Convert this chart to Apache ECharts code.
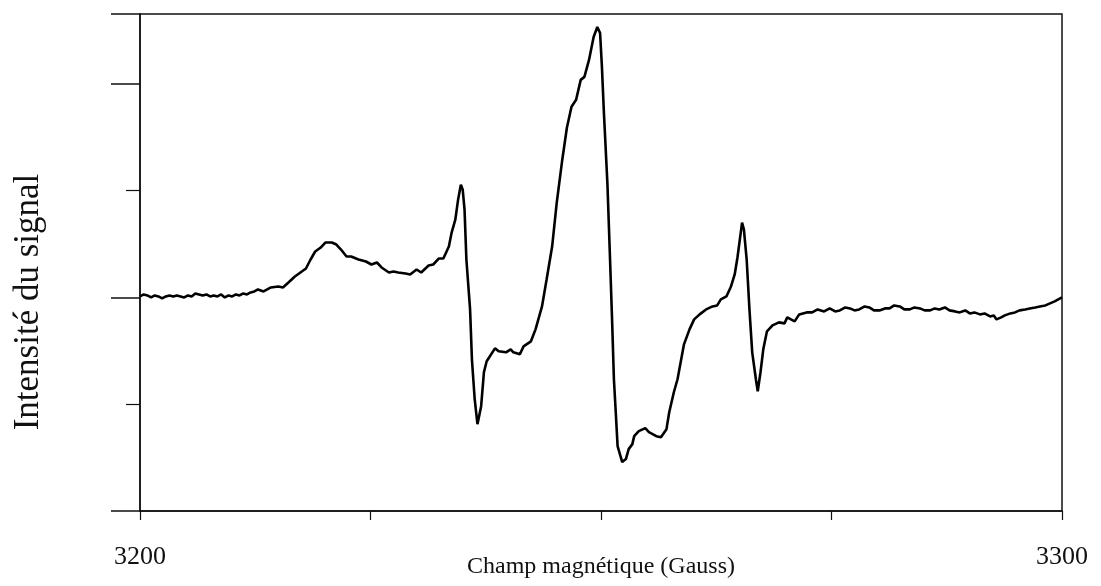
<!DOCTYPE html>
<html>
<head>
<meta charset="utf-8">
<script src="https://cdn.jsdelivr.net/npm/echarts@6/dist/echarts.min.js"></script>
<style>
html,body{margin:0;padding:0;background:#fff;}
#chart{width:1101px;height:586px;}
</style>
</head>
<body>
<div id="chart"></div>
<script>
// Magnetic field (Gauss)
const fieldGauss = [
3200.0,3200.4,3200.8,3201.2,3201.6,3202.0,3202.4,3202.8,3203.2,3203.6,3204.0,3204.4,3204.8,3205.2,3205.6,3206.0,3206.4,3206.8,3207.2,3207.6,3208.0,3208.4,3208.8,3209.2,3209.6,3210.0,3210.4,3210.8,3211.2,3211.6,3212.0,3212.4,3212.8,
3213.4,3214.2,3215.0,3215.5,3216.1,3216.8,3217.4,3218.0,3218.5,3219.0,3219.6,3220.1,3220.8,3221.3,3221.8,3222.4,3222.9,3223.7,3224.5,3225.1,3225.7,3226.2,3227.0,3227.5,3228.0,3228.8,3229.3,3230.0,3230.5,3231.3,3231.8,3232.4,3232.9,
3233.5,3233.8,3234.2,3234.5,3234.8,3235.0,3235.2,3235.4,3235.8,3236.0,3236.3,3236.6,3237.0,3237.3,3237.6,3238.5,3238.9,3239.7,3240.2,3240.5,3241.2,3241.6,3242.4,3242.9,3243.6,3244.1,3244.7,3245.2,3245.8,3246.3,3246.8,3247.3,3247.8,3248.2,3248.7,3249.2,3249.6,3249.9,3250.1,
3250.3,3250.7,3251.0,3251.2,3251.4,3251.6,3251.8,3252.3,3252.7,3253.0,3253.4,3253.6,3254.1,3254.8,3255.2,3256.0,3256.5,3257.1,3257.4,3257.9,3258.3,3259.0,3259.6,3260.1,3260.7,3261.4,3262.1,3262.6,3263.0,3263.6,3264.1,3264.5,3264.8,3265.1,3265.3,3265.5,3265.8,
3266.1,3266.4,3266.8,3267.0,3267.3,3267.6,3268.0,3268.6,3269.3,3269.9,3270.2,3271.0,3271.5,3272.3,3272.9,3273.5,
3274.2,3274.8,3275.4,3275.9,3276.5,3277.0,3277.5,3278.0,3278.6,3279.1,3279.6,3280.2,3280.8,3281.3,3281.8,3282.4,3282.9,3283.5,3284.0,3284.6,3285.1,3285.7,3286.2,3286.7,3287.3,3287.8,3288.4,3288.9,3289.5,3290.0,3290.5,3291.1,3291.6,3292.2,3292.6,3292.9,3293.4,3293.8,3294.4,3294.9,3295.4,3296.0,3296.5,3297.1,3297.6,3298.2,3298.7,3299.2,3299.6,3300.0
];
// Signal intensity (arbitrary units)
const intensity = [
1,3,2,0,2,1,-1,1,2,1,2,1,0,2,1,4,3,2,3,1,2,1,3,0,2,1,3,2,4,3,5,6,8,
6,10,11,10,15,21,25,29,38,46,50,55,55,53,48,41,41,38,36,33,35,30,25,26,25,24,23,28,25,32,33,39,39,
51,65,78,98,113,108,88,38,-12,-62,-102,-127,-109,-75,-64,-51,-54,-55,-52,-55,-57,-49,-44,-32,-9,18,51,95,138,170,191,198,218,221,238,261,271,265,231,
188,113,33,-22,-82,-115,-149,-165,-162,-152,-147,-139,-134,-131,-135,-139,-140,-132,-115,-95,-82,-47,-32,-22,-17,-12,-9,-8,-2,1,11,23,40,61,75,68,38,
-12,-55,-82,-94,-75,-52,-34,-28,-25,-26,-20,-24,-17,-15,-15,-12,
-14,-11,-14,-13,-10,-11,-13,-12,-9,-10,-13,-13,-11,-11,-8,-9,-12,-12,-10,-11,-13,-13,-11,-12,-10,-13,-14,-15,-13,-16,-15,-17,-16,-19,-18,-22,-20,-18,-16,-15,-13,-12,-11,-10,-9,-8,-6,-4,-2,0
];
const xTickLabels = ['3200', '3300'];
const xTitle = 'Champ magnétique (Gauss)';
const yTitle = 'Intensité du signal';

const data = fieldGauss.map((g, i) => [g, intensity[i]]);

const chart = echarts.init(document.getElementById('chart'), null, {renderer: 'canvas'});
const serif = '"Liberation Serif", "DejaVu Serif", serif';
chart.setOption({
  animation: false,
  backgroundColor: '#fff',
  grid: {left: 140, right: 39, top: 14, bottom: 75, containLabel: false, outerBoundsMode: 'none',
         show: true, borderColor: '#111', borderWidth: 1.5, backgroundColor: 'transparent'},
  graphic: [{
    type: 'text', x: 29, y: 302, rotation: Math.PI / 2, silent: true,
    style: {text: yTitle, font: '35px "Liberation Serif", "DejaVu Serif", serif', fill: '#111',
            textAlign: 'center', textVerticalAlign: 'middle'}
  }],
  xAxis: {
    type: 'value', min: 3200, max: 3300, interval: 25,
    axisLine: {show: true, onZero: false, lineStyle: {color: '#111', width: 1.5}},
    axisTick: {show: true, length: 9, lineStyle: {color: '#111', width: 1.2}},
    splitLine: {show: false},
    axisLabel: {
      margin: 33, fontFamily: serif, fontSize: 26, color: '#111',
      formatter: v => (xTickLabels.indexOf(String(v)) >= 0 ? String(v) : '')
    },
    name: xTitle, nameLocation: 'middle', nameGap: 44, nameMoveOverlap: false,
    nameTextStyle: {fontFamily: serif, fontSize: 24, color: '#111'}
  },
  yAxis: {
    type: 'value', min: -214, max: 284, interval: 214,
    axisLine: {show: true, onZero: false, lineStyle: {color: '#111', width: 1.5}},
    axisTick: {show: true, length: 29, lineStyle: {color: '#111', width: 1.5}},
    minorTick: {show: true, splitNumber: 2, length: 14, lineStyle: {color: '#111', width: 1.2}},
    splitLine: {show: false},
    axisLabel: {show: false}
  },
  series: [{
    type: 'line', data: data, showSymbol: false, symbol: 'none',
    lineStyle: {color: '#000', width: 2.6}, smooth: false
  }]
});
</script>
</body>
</html>
